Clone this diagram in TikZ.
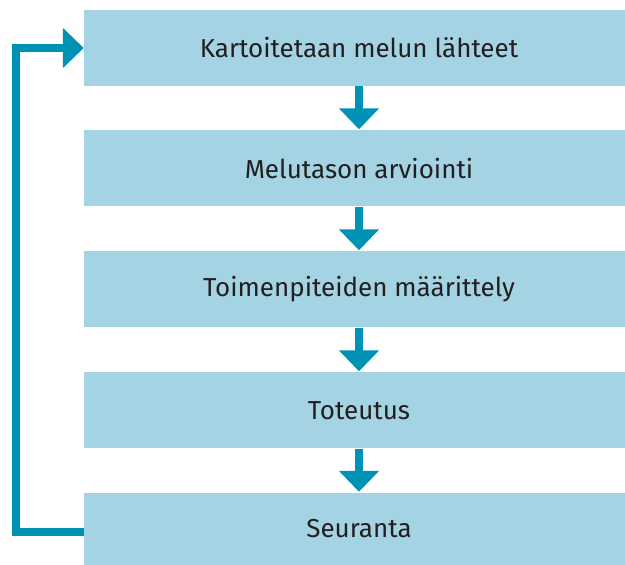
\documentclass[tikz,border=0pt]{standalone}
\usepackage{fontspec}
\setmainfont{Fira Sans}
\usetikzlibrary{arrows.meta}
\definecolor{boxblue}{HTML}{A4D3E3}
\definecolor{arrowblue}{HTML}{0092B5}
\definecolor{txt}{HTML}{231F20}
\begin{document}
\begin{tikzpicture}[x=1pt,y=1pt,
  box/.style={rectangle, fill=boxblue, draw=none, minimum width=541pt, minimum height=76pt, inner sep=0pt},
  lbl/.style={text=txt, font=\fontsize{26}{30}\selectfont, inner sep=0pt},
  flow/.style={draw=arrowblue, line width=8pt, -{Triangle[width=39pt,length=21pt]}}]
\useasboundingbox (0,0) rectangle (625,565);
\node[box] (b1) at (354.5,517) {};
\node[box] (b2) at (354.5,396.5) {};
\node[box] (b3) at (354.5,275.5) {};
\node[box] (b4) at (354.5,154.5) {};
\node[box, minimum height=72pt] (b5) at (354.5,36) {};
\node[lbl] (t1) at (359,517) {Kartoitetaan melun lähteet};
\node[lbl] (t2) at (359,396.5) {Melutason arviointi};
\node[lbl] (t3) at (359,275.5) {Toimenpiteiden määrittely};
\node[lbl] (t4) at (359,154.5) {Toteutus};
\node[lbl] (t5) at (359,36) {Seuranta};
\draw[flow] (t1 |- b1.south) -- ([yshift=1pt]t1 |- b2.north);
\draw[flow] (t1 |- b2.south) -- ([yshift=1pt]t1 |- b3.north);
\draw[flow] (t1 |- b3.south) -- ([yshift=1pt]t1 |- b4.north);
\draw[flow] (t1 |- b4.south) -- ([yshift=1pt]t1 |- b5.north);
\coordinate (fb) at ([yshift=-3pt]b5.west);
\draw[flow] (fb) -- ++(-68,0) |- (b1.west);
\end{tikzpicture}
\end{document}
